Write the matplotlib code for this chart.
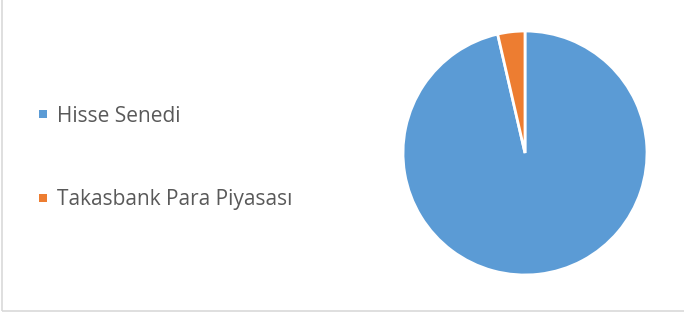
import matplotlib.pyplot as plt
from matplotlib.lines import Line2D
from matplotlib.patches import Rectangle

labels = ['Hisse Senedi', 'Takasbank Para Piyasası']
values = [96.4, 3.6]
colors = ['#5B9BD5', '#ED7D31']

W, H = 684, 313
fig = plt.figure(figsize=(W / 100, H / 100), dpi=100)
plt.rcParams['font.family'] = ['Open Sans', 'DejaVu Sans']

# chart area border
fig.patches.append(Rectangle((2 / W, 2 / H), 1.2, 1.2, transform=fig.transFigure,
                             fill=False, edgecolor='#D9D9D9', linewidth=1.2))

cx, cy, r = 525, 153, 122
ax = fig.add_axes([(cx - r) / W, (H - cy - r) / H, 2 * r / W, 2 * r / H])
ax.pie(values, colors=colors, startangle=90, counterclock=False,
       wedgeprops=dict(edgecolor='white', linewidth=2))
ax.set_xlim(-1, 1)
ax.set_ylim(-1, 1)
ax.set_aspect('auto')
ax.axis('off')

handles = [Line2D([], [], marker='s', linestyle='none', markersize=5.2,
                  markerfacecolor=c, markeredgewidth=0) for c in colors]
fig.legend(handles, labels, loc='center left', bbox_to_anchor=(21 / W, 1 - 158 / H),
           frameon=False, fontsize=15, labelcolor='#595959', handlelength=0.34,
           handletextpad=0.48, labelspacing=3.0)

fig.savefig('out.png', dpi=100)
